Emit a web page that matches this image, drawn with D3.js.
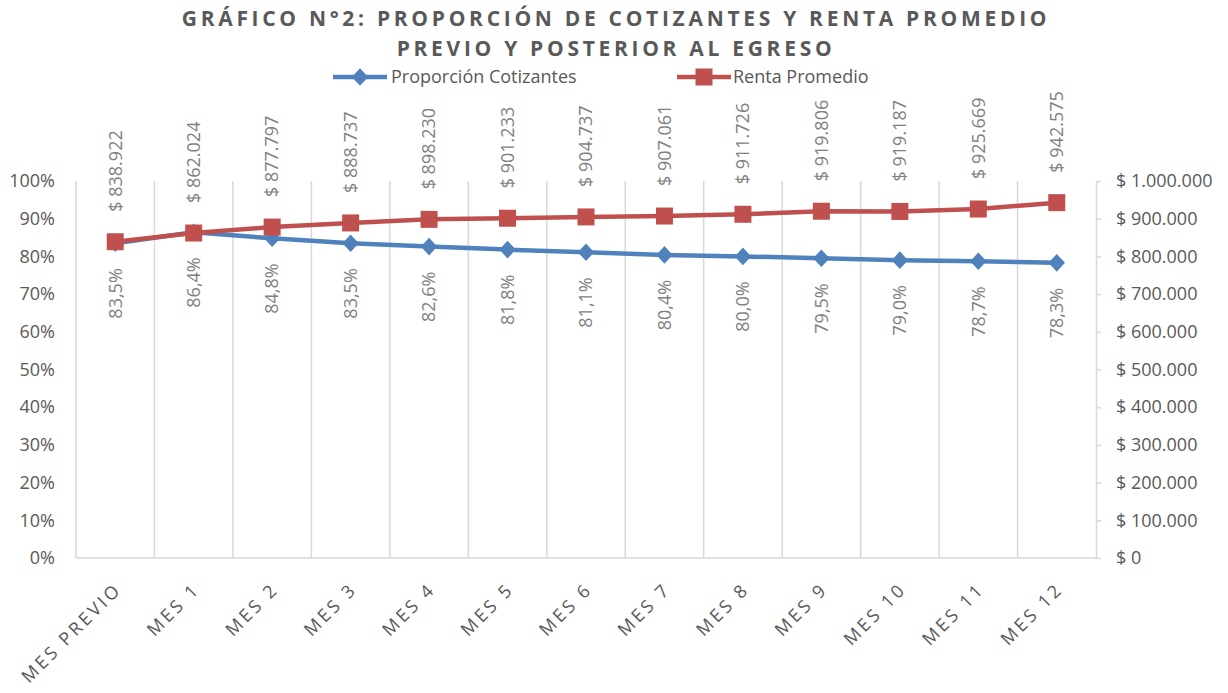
<!doctype html>
<html lang="es">
  <head>
    <meta charset="utf-8">
    <title>Gráfico N°2</title>
    <script src="https://d3js.org/d3.v7.min.js"></script>
    <style>
      body { margin: 0; background: #fff; font-family: 'Open Sans', sans-serif; }
      text { fill: #595959; }
    </style>
  </head>
  <body>
    <div id="root"></div>
  </body>
  <script>

    //data:
    const categories = ['MES PREVIO', 'MES 1', 'MES 2', 'MES 3', 'MES 4', 'MES 5', 'MES 6',
      'MES 7', 'MES 8', 'MES 9', 'MES 10', 'MES 11', 'MES 12'];
    const proporcion = [83.5, 86.4, 84.8, 83.5, 82.6, 81.8, 81.1, 80.4, 80.0, 79.5, 79.0, 78.7, 78.3];
    const renta = [838922, 862024, 877797, 888737, 898230, 901233, 904737, 907061, 911726,
      919806, 919187, 925669, 942575];
    const leftTicks = [0, 10, 20, 30, 40, 50, 60, 70, 80, 90, 100];
    const rightTicks = [0, 100000, 200000, 300000, 400000, 500000, 600000, 700000, 800000, 900000, 1000000];

    //constants:
    const width = 1228;
    const height = 693;
    const pLeft = 76, pRight = 1096, pTop = 181, pBottom = 558;
    const blue = '#4F81BD';
    const red = '#C0504D';
    const grid = '#d9d9d9';

    const fmtMoney = v => '$ ' + d3.format(',')(v).replace(/,/g, '.');
    const fmtPct = v => d3.format('.1f')(v).replace('.', ',') + '%';

    //scales:
    const x = d3.scaleBand().domain(categories).range([pLeft, pRight]);
    const yL = d3.scaleLinear().domain([0, 100]).range([pBottom, pTop]);
    const yR = d3.scaleLinear().domain([0, 1000000]).range([pBottom, pTop]);
    const cx = d => x(d) + x.bandwidth() / 2;
    const diamond = d3.symbol(d3.symbolDiamond2, 170)();

    const svg = d3.select('#root').append('svg')
      .attr('width', width)
      .attr('height', height);

    //title:
    svg.append('g').selectAll('text')
      .data(['GRÁFICO N°2: PROPORCIÓN DE COTIZANTES Y RENTA PROMEDIO', 'PREVIO Y POSTERIOR AL EGRESO'])
      .join('text')
      .attr('x', 616)
      .attr('y', (d, i) => 26 + i * 30)
      .attr('text-anchor', 'middle')
      .style('font-size', '21px')
      .style('font-weight', 'bold')
      .style('letter-spacing', '3.7px')
      .text(d => d);

    //legend:
    const leg = svg.append('g');
    leg.append('line').attr('x1', 333).attr('x2', 387).attr('y1', 77).attr('y2', 77)
      .attr('stroke', blue).attr('stroke-width', 4.5);
    leg.append('path').attr('d', diamond)
      .attr('transform', 'translate(360,77) scale(1,1.08)').attr('fill', blue);
    leg.append('text').attr('x', 391).attr('y', 83).style('font-size', '18px').text('Proporción Cotizantes');
    leg.append('line').attr('x1', 677).attr('x2', 731).attr('y1', 77).attr('y2', 77)
      .attr('stroke', red).attr('stroke-width', 4.5);
    leg.append('rect').attr('x', 695.5).attr('y', 68.5).attr('width', 17).attr('height', 17).attr('fill', red);
    leg.append('text').attr('x', 733).attr('y', 83).style('font-size', '18px').text('Renta Promedio');

    //vertical gridlines at category boundaries:
    svg.append('g').selectAll('line')
      .data(categories)
      .join('line')
      .attr('x1', d => x(d)).attr('x2', d => x(d))
      .attr('y1', pTop).attr('y2', pBottom)
      .attr('stroke', grid).attr('stroke-width', 1.5);

    //bottom axis:
    svg.append('line').attr('x1', pLeft).attr('x2', pRight).attr('y1', pBottom).attr('y2', pBottom)
      .attr('stroke', grid).attr('stroke-width', 1.5);
    svg.append('g').selectAll('text')
      .data(categories)
      .join('text')
      .attr('transform', d => `translate(${cx(d) + 3},${pBottom + 28}) rotate(-45)`)
      .attr('text-anchor', 'end')
      .attr('dy', '0.35em')
      .style('font-size', '18px')
      .style('letter-spacing', '3px')
      .text(d => d);

    //left axis:
    const yAxisL = d3.axisLeft(yL).tickValues(leftTicks).tickFormat(d => d + '%').tickSize(0).tickPadding(21);
    const gL = svg.append('g').attr('transform', `translate(${pLeft},0)`).call(yAxisL);
    gL.select('.domain').remove();
    gL.selectAll('text').style('font-size', '18px').style('font-family', "'Open Sans', sans-serif").attr('fill', '#595959');

    //right axis:
    const yAxisR = d3.axisRight(yR).tickValues(rightTicks).tickFormat(fmtMoney).tickSize(5).tickPadding(15)
      .tickSizeOuter(0);
    const gR = svg.append('g').attr('transform', `translate(${pRight},0)`).call(yAxisR);
    gR.select('.domain').attr('stroke', grid).attr('stroke-width', 1.5);
    gR.selectAll('line').attr('stroke', grid).attr('stroke-width', 1.5);
    gR.selectAll('text').style('font-size', '18px').style('font-family', "'Open Sans', sans-serif").attr('fill', '#595959');

    //blue line:
    const lineL = d3.line().x((d, i) => cx(categories[i])).y(d => yL(d));
    svg.append('path').datum(proporcion)
      .attr('d', lineL)
      .attr('fill', 'none').attr('stroke', blue).attr('stroke-width', 4.5).attr('stroke-linejoin', 'round');
    svg.append('g').selectAll('path')
      .data(proporcion)
      .join('path')
      .attr('d', diamond)
      .attr('transform', (d, i) => `translate(${cx(categories[i])},${yL(d)}) scale(1,1.08)`)
      .attr('fill', blue);

    //red line:
    const lineR = d3.line().x((d, i) => cx(categories[i])).y(d => yR(d));
    svg.append('path').datum(renta)
      .attr('d', lineR)
      .attr('fill', 'none').attr('stroke', red).attr('stroke-width', 4.5).attr('stroke-linejoin', 'round');
    svg.append('g').selectAll('rect')
      .data(renta)
      .join('rect')
      .attr('x', (d, i) => cx(categories[i]) - 8.5)
      .attr('y', d => yR(d) - 8.5)
      .attr('width', 17).attr('height', 17)
      .attr('fill', red);

    //data labels:
    svg.append('g').selectAll('text')
      .data(renta)
      .join('text')
      .attr('transform', (d, i) => `translate(${cx(categories[i])},${yR(d) - 30}) rotate(-90)`)
      .attr('dy', '0.35em')
      .style('fill', '#7f7f7f')
      .style('font-size', '18px')
      .text(fmtMoney);

    svg.append('g').selectAll('text')
      .data(proporcion)
      .join('text')
      .attr('transform', (d, i) => `translate(${cx(categories[i])},${yL(d) + 25}) rotate(-90)`)
      .attr('text-anchor', 'end')
      .attr('dy', '0.35em')
      .style('fill', '#7f7f7f')
      .style('font-size', '18px')
      .text(fmtPct);

  </script>
</html>
